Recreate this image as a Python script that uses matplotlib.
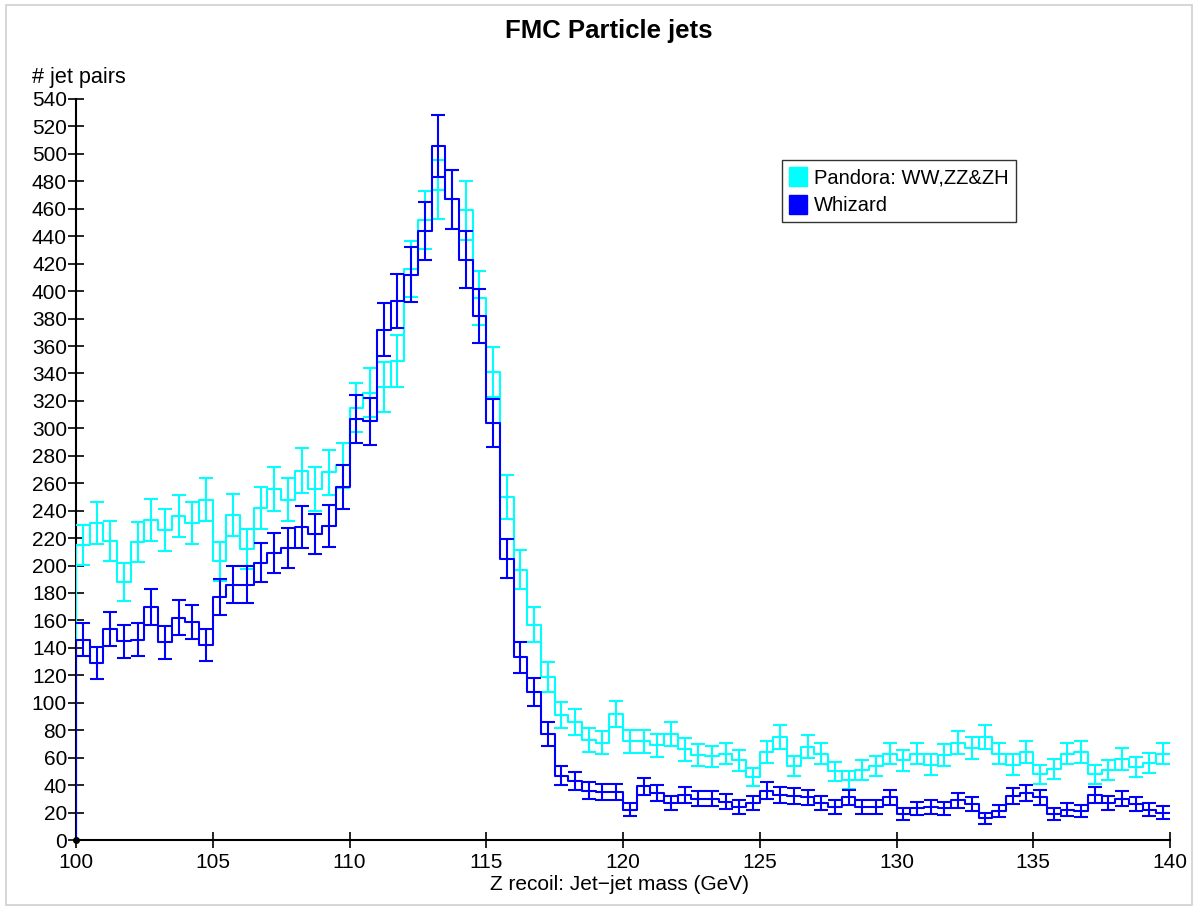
import numpy as np
import matplotlib
matplotlib.use("Agg")
import matplotlib.pyplot as plt
import matplotlib.patches as mpatches

plt.rcParams['font.family'] = ['Liberation Sans', 'DejaVu Sans']

# histogram binning: 80 bins of 0.5 GeV between 100 and 140
x_lo, x_hi, n_bins = 100.0, 140.0, 80

pandora = [215, 231, 218, 188, 217, 233, 226, 236, 231, 248,
           203, 237, 212, 242, 256, 248, 269, 256, 268, 273,
           315, 326, 330, 349, 416, 452, 474, 467, 459, 395,
           341, 250, 197, 157, 119, 91, 86, 73, 71, 92,
           72, 72, 69, 77, 66, 62, 61, 63, 58, 46,
           64, 75, 54, 68, 63, 50, 44, 51, 54, 63,
           58, 63, 55, 62, 71, 67, 75, 63, 55, 64,
           48, 52, 63, 64, 48, 51, 59, 53, 56, 63]

whizard = [146, 129, 154, 145, 146, 170, 144, 162, 159, 142,
           177, 186, 186, 202, 209, 213, 228, 223, 229, 257,
           307, 305, 372, 393, 412, 444, 506, 467, 423, 382,
           304, 205, 133, 108, 77, 47, 43, 36, 35, 35,
           22, 39, 34, 27, 33, 30, 30, 28, 24, 27,
           36, 33, 32, 31, 27, 24, 31, 24, 24, 31,
           19, 23, 24, 23, 29, 26, 16, 21, 32, 34,
           31, 19, 22, 21, 33, 27, 30, 26, 22, 20]

series = [("Pandora: WW,ZZ&ZH", pandora, "#00ffff"),
          ("Whizard", whizard, "#0000ff")]

yticks = list(range(0, 541, 20))
xticks = [100, 105, 110, 115, 120, 125, 130, 135, 140]

fig = plt.figure(figsize=(11.98, 9.11), dpi=100)
fig.patch.set_facecolor('white')
# light grey frame around the whole picture
fig.patches.append(mpatches.Rectangle((6 / 1198, 6 / 911), 1186 / 1198, 900 / 911,
                                      transform=fig.transFigure, fill=False,
                                      edgecolor='#d0d0d0', linewidth=1.2))

ax = fig.add_axes((76 / 1198, 1 - 840 / 911, 1094 / 1198, 741 / 911))

edges = np.linspace(x_lo, x_hi, n_bins + 1)
centers = 0.5 * (edges[:-1] + edges[1:])

handles = []
for label, vals, col in series:
    vals = np.array(vals, dtype=float)
    xs = np.r_[edges[0], edges]
    ys = np.r_[0, vals, vals[-1]]
    ax.step(xs, ys, where='post', color=col, lw=1.5, zorder=3)
    ax.errorbar(centers, vals, yerr=np.sqrt(vals), fmt='none', ecolor=col,
                elinewidth=1.5, capsize=5, capthick=1.5, zorder=3)
    handles.append(mpatches.Patch(facecolor=col, edgecolor=col, label=label))

ax.set_xlim(x_lo, x_hi)
ax.set_ylim(0, 540)
ax.set_xticks(xticks)
ax.set_yticks(yticks)
ax.tick_params(direction='inout', length=11, width=1.2, labelsize=15, pad=1)
ax.tick_params(axis='x', pad=4)
for s in ['top', 'right']:
    ax.spines[s].set_visible(False)
ax.spines['left'].set_linewidth(1.5)
ax.spines['bottom'].set_linewidth(1.5)
ax.plot([x_lo], [0], 'o', color='black', ms=4, clip_on=False, zorder=5)

leg = ax.legend(handles=handles, loc='upper left',
                bbox_to_anchor=((782 - 76) / 1094, (840 - 160) / 741),
                fontsize=14.5, frameon=True, fancybox=False, handlelength=0.9,
                handleheight=1.1, handletextpad=0.35, borderpad=0.35,
                labelspacing=0.35, borderaxespad=0)
leg.get_frame().set_edgecolor('black')
leg.get_frame().set_linewidth(1.0)

fig.text(609 / 1198, 1 - 31 / 911, "FMC Particle jets", ha='center', va='center',
         fontsize=18.5, fontweight='bold')
fig.text(32 / 1198, 1 - 77 / 911, "# jet pairs", ha='left', va='center', fontsize=15.6)
fig.text(620 / 1198, 1 - 885 / 911, "Z recoil: Jet\u2212jet mass (GeV)", ha='center',
         va='center', fontsize=15)

fig.savefig("out.png", dpi=100)
